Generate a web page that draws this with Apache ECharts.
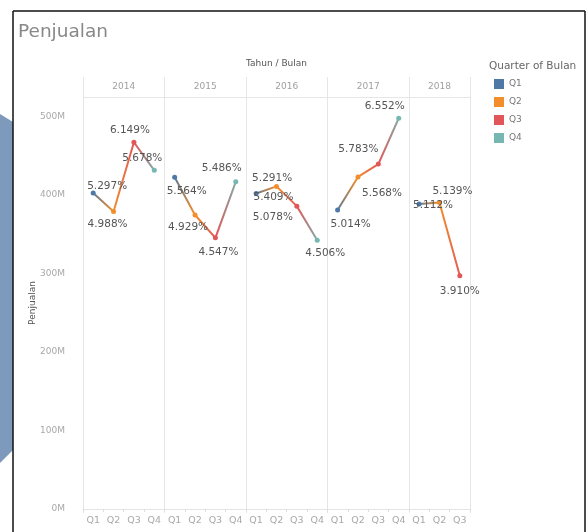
<!DOCTYPE html>
<html>
<head>
<meta charset="utf-8">
<script src="https://cdn.jsdelivr.net/npm/echarts@6/dist/echarts.min.js"></script>
<style>
  html, body { margin: 0; padding: 0; background: #ffffff; }
  #chart { width: 588px; height: 532px; }
</style>
</head>
<body>
<div id="chart"></div>
<script>
// Years shown as column headers, quarters along the bottom axis
const years = ['2014', '2015', '2016', '2017', '2018'];
const quarters = ['Q1', 'Q2', 'Q3', 'Q4'];
const quarterColors = ['#4e79a7', '#f28e2b', '#e15759', '#76b7b2'];

// Penjualan per quarter, in millions
const sales2014 = [402.572, 379.088, 467.324, 431.528];
const sales2015 = [422.864, 374.604, 345.572, 416.936];
const sales2016 = [402.116, 411.084, 385.928, 342.456];
const sales2017 = [381.064, 423.168, 439.508, 497.952];
const sales2018 = [388.512, 390.564, 297.160];
const salesByYear = [sales2014, sales2015, sales2016, sales2017, sales2018];

// Value axis ticks (millions)
const yTickValues = [0, 100, 200, 300, 400, 500];

// Label nudges relative to each point (pixels), per year
const labelNudges = [
  [[14, -7], [-6, 13], [-4, -12], [-12, -12]],
  [[12, 14], [-7, 12], [3, 14], [-14, -14]],
  [[16, -15], [-3, 11], [-24, 11], [8, 13]],
  [[13, 14], [24, 16], [-20, -15], [-14, -12]],
  [[14, 1], [13, -11], [0, 15]]
];

const FONT = 'DejaVu Sans';

// Category list: one slot per year/quarter that has data
const categories = [];
years.forEach((y, yi) => {
  salesByYear[yi].forEach((_, qi) => categories.push(y + ' ' + quarters[qi]));
});

const grandTotal = salesByYear.reduce((s, arr) => s + arr.reduce((a, b) => a + b, 0), 0);

const lineSeries = years.map((y, yi) => {
  const vals = salesByYear[yi];
  const n = vals.length;
  const stops = vals.map((_, qi) => ({ offset: n === 1 ? 0 : qi / (n - 1), color: quarterColors[qi] }));
  return {
    type: 'line',
    name: y,
    symbol: 'circle',
    symbolSize: 5,
    z: 3,
    lineStyle: {
      width: 2,
      color: { type: 'linear', x: 0, y: 0, x2: 1, y2: 0, colorStops: stops }
    },
    data: vals.map((v, qi) => ({
      value: [y + ' ' + quarters[qi], v],
      itemStyle: { color: quarterColors[qi] },
      label: {
        show: true,
        position: 'inside',
        offset: labelNudges[yi][qi],
        formatter: () => (v / grandTotal * 100).toFixed(3) + '%',
        color: '#555555',
        fontFamily: FONT,
        fontSize: 10.5
      }
    })),
    emphasis: { disabled: true }
  };
});

// Legend-only series for the quarter colours
const legendSeries = quarters.map((q, qi) => ({
  type: 'line', name: q, data: [],
  itemStyle: { color: quarterColors[qi] }
}));

const chart = echarts.init(document.getElementById('chart'), null, { renderer: 'canvas' });

const option = {
  animation: false,
  backgroundColor: '#ffffff',
  grid: { left: 83, right: 118, top: 97, bottom: 23 },
  xAxis: {
    type: 'category',
    data: categories,
    boundaryGap: true,
    axisLine: { show: true, lineStyle: { color: '#e4e4e4' } },
    axisTick: { show: true, length: 3, lineStyle: { color: '#dddddd' } },
    axisLabel: {
      interval: 0,
      margin: 7,
      color: '#a8a8a8',
      fontFamily: FONT,
      fontSize: 9.5,
      formatter: (v) => v.split(' ')[1]
    },
    splitLine: { show: false }
  },
  yAxis: {
    type: 'value',
    min: 0,
    max: 525,
    interval: 100,
    name: 'Penjualan',
    nameLocation: 'middle',
    nameGap: 46,
    nameRotate: 90,
    nameMoveOverlap: false,
    nameTextStyle: { color: '#555555', fontFamily: FONT, fontSize: 9 },
    axisLine: { show: true, lineStyle: { color: '#e4e4e4' } },
    axisTick: { show: false },
    splitLine: { show: false },
    axisLabel: {
      margin: 18,
      color: '#a8a8a8',
      fontFamily: FONT,
      fontSize: 9,
      formatter: (v) => (yTickValues.indexOf(v) >= 0 ? v + 'M' : '')
    }
  },
  legend: {
    data: quarters,
    orient: 'vertical',
    left: 489,
    top: 74,
    icon: 'rect',
    itemWidth: 10,
    itemHeight: 10,
    itemGap: 8,
    textStyle: { color: '#777777', fontFamily: FONT, fontSize: 9 },
    selectedMode: false
  },
  series: lineSeries.concat(legendSeries)
};

chart.setOption(option);

// Panel dividers and headers, placed from the category axis
const xA = chart.convertToPixel({ xAxisIndex: 0 }, categories[0]);
const xB = chart.convertToPixel({ xAxisIndex: 0 }, categories[1]);
const band = xB - xA;
const leftEdge = xA - band / 2;
const plotTop = 97, plotBottom = 509, headerTop = 77;

const graphics = [];

// Decorative blue shape at the left edge and black frame
graphics.push({
  type: 'polygon', z: 1,
  shape: { points: [[0, 114], [13, 122], [13, 450], [0, 463]] },
  style: { fill: '#7d99bb' }
});
graphics.push({ type: 'line', z: 10, shape: { x1: 13, y1: 11, x2: 13, y2: 532 }, style: { stroke: '#111111', lineWidth: 1.5 } });
graphics.push({ type: 'line', z: 10, shape: { x1: 13, y1: 11, x2: 585, y2: 11 }, style: { stroke: '#111111', lineWidth: 1.5 } });
graphics.push({ type: 'line', z: 10, shape: { x1: 585, y1: 11, x2: 585, y2: 532 }, style: { stroke: '#111111', lineWidth: 1.5 } });

// Title
graphics.push({
  type: 'text', left: 18, top: 23,
  style: { text: 'Penjualan', fill: '#888888', font: '18.5px "DejaVu Sans"' }
});

let idx = 0;
const boundaries = [0];
salesByYear.forEach((arr) => { idx += arr.length; boundaries.push(idx); });
const rightEdge = leftEdge + band * idx;

boundaries.forEach((b) => {
  const x = Math.round(leftEdge + band * b) + 0.5;
  graphics.push({
    type: 'line', z: 0, silent: true,
    shape: { x1: x, y1: headerTop, x2: x, y2: plotBottom + 4 },
    style: { stroke: '#e6e6e6', lineWidth: 1 }
  });
});
graphics.push({
  type: 'line', z: 0, silent: true,
  shape: { x1: leftEdge, y1: plotTop + 0.5, x2: rightEdge, y2: plotTop + 0.5 },
  style: { stroke: '#e6e6e6', lineWidth: 1 }
});

years.forEach((y, yi) => {
  const cx = leftEdge + band * (boundaries[yi] + boundaries[yi + 1]) / 2;
  graphics.push({
    type: 'text', x: cx, y: 87,
    style: { text: y, fill: '#a0a0a0', font: '9px "DejaVu Sans"', align: 'center', verticalAlign: 'middle' }
  });
});

graphics.push({
  type: 'text', x: (leftEdge + rightEdge) / 2, y: 64,
  style: { text: 'Tahun / Bulan', fill: '#555555', font: '9px "DejaVu Sans"', align: 'center', verticalAlign: 'middle' }
});

// Legend heading
graphics.push({
  type: 'text', x: 489, y: 66,
  style: { text: 'Quarter of Bulan', fill: '#666666', font: '10.5px "DejaVu Sans"', align: 'left', verticalAlign: 'middle' }
});

chart.setOption({ graphic: graphics });
</script>
</body>
</html>
